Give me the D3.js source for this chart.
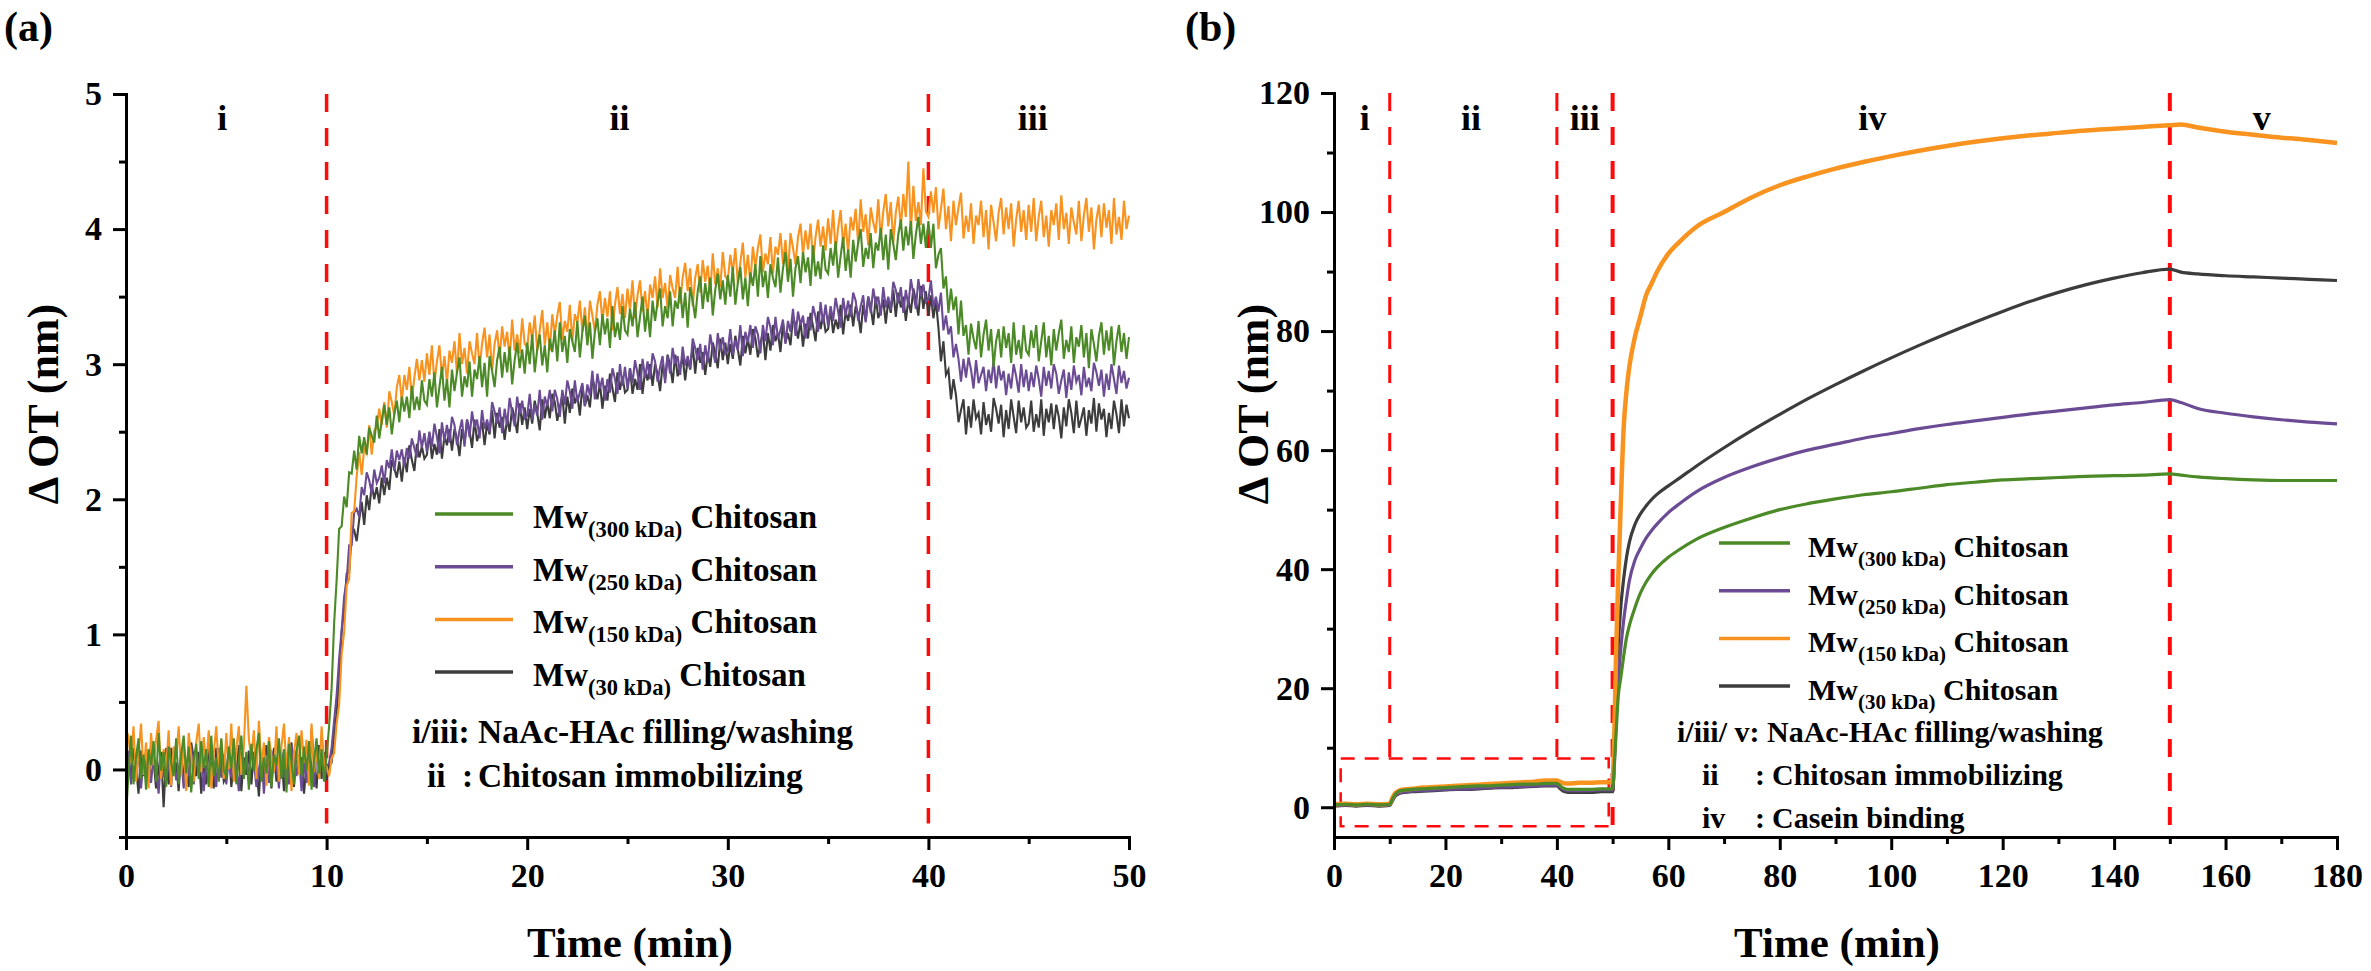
<!DOCTYPE html>
<html><head><meta charset="utf-8">
<script src="https://cdn.jsdelivr.net/npm/d3@7"></script>
<style>
body{margin:0;background:#fff}
svg{display:block}
text{font-family:"Liberation Serif","Times New Roman",serif;font-weight:bold;fill:#000}
</style>
</head><body>
<svg id="chart" width="2371" height="971"></svg>
<script>
// ---------- shared ----------
const seriesLabels = ["300 kDa", "250 kDa", "150 kDa", "30 kDa"];
const seriesColors = ["#4b8a26", "#6b4c94", "#f7931e", "#3c3c3c"];
const drawOrder = [3, 1, 2, 0];

// ---------- panel (a): one sample every 0.125 min, 0..50 min ----------
const stepA = 0.125;
const a300 = [
-0.35,-0.03,0.25,-0.11,0.09,0.23,-0.07,0.11,-0.15,0.15,0.03,0.21,-0.09,0.27,-0.01,0.13,-0.13,0.17,0.05,-0.05,0.23,-0.11,0.11,0.25,-0.03,0.17,-0.17,0.07,0.19,-0.07,0.21,0.01,0.15,-0.13,0.25,-0.05,0.09,-0.09,0.23,-0.01,
-0.05,0.17,0.01,0.23,-0.11,0.07,0.25,-0.07,0.13,-0.15,0.19,-0.01,0.15,0.27,-0.09,0.09,-0.03,0.21,-0.13,0.11,0.03,0.23,-0.07,0.15,-0.17,0.19,0.05,-0.11,0.13,0.25,-0.05,0.17,-0.01,0.21,-0.15,0.07,0.23,-0.03,0.15,-0.09,
0.10,0.32,0.60,1.08,1.40,1.78,1.80,2.02,1.94,2.20,2.19,2.36,2.22,2.47,2.34,2.46,2.33,2.53,2.47,2.42,2.62,2.45,2.58,2.70,2.55,2.68,2.48,2.63,2.73,2.57,2.76,2.65,2.76,2.60,2.84,2.66,2.76,2.66,2.88,2.73,
2.70,2.89,2.76,2.94,2.68,2.83,2.98,2.73,2.89,2.68,2.96,2.80,2.94,3.05,2.76,2.91,2.83,3.02,2.76,2.96,2.89,3.06,2.83,3.01,2.76,3.06,2.95,2.83,3.03,3.13,2.90,3.09,2.94,3.13,2.85,3.03,3.16,2.97,3.11,2.93,
3.16,3.00,3.22,2.94,3.11,3.22,2.99,3.14,2.94,3.19,3.09,3.25,3.02,3.31,3.09,3.21,3.01,3.26,3.17,3.09,3.32,3.05,3.24,3.36,3.14,3.31,3.04,3.24,3.34,3.14,3.37,3.22,3.34,3.12,3.43,3.20,3.31,3.18,3.43,3.25,
3.22,3.41,3.28,3.46,3.20,3.35,3.50,3.24,3.41,3.20,3.47,3.32,3.46,3.56,3.28,3.43,3.34,3.54,3.28,3.47,3.41,3.57,3.34,3.53,3.27,3.57,3.47,3.34,3.54,3.65,3.41,3.60,3.46,3.64,3.36,3.55,3.67,3.48,3.62,3.44,
3.66,3.50,3.72,3.44,3.60,3.72,3.48,3.64,3.43,3.68,3.58,3.74,3.50,3.80,3.57,3.69,3.49,3.74,3.64,3.57,3.79,3.53,3.71,3.83,3.61,3.78,3.50,3.71,3.80,3.60,3.83,3.68,3.79,3.58,3.88,3.65,3.76,3.63,3.88,3.70,
3.67,3.86,3.73,3.91,3.64,3.80,3.94,3.69,3.85,3.64,3.92,3.76,3.90,4.00,3.72,3.86,3.78,3.97,3.71,3.90,3.84,4.01,3.77,3.96,3.70,4.00,3.89,3.77,3.96,4.07,3.84,4.02,3.88,4.06,3.78,3.96,4.09,3.89,4.04,3.86,
4.06,3.86,4.04,3.71,3.81,3.86,3.56,3.65,3.38,3.56,3.40,3.50,3.22,3.47,3.21,3.29,3.07,3.30,3.19,3.11,3.32,3.05,3.22,3.33,3.10,3.26,2.98,3.17,3.26,3.05,3.28,3.12,3.23,3.01,3.31,3.07,3.18,3.04,3.29,3.10,
3.07,3.25,3.12,3.29,3.02,3.17,3.31,3.05,3.21,2.99,3.26,3.10,3.23,3.33,3.04,3.18,3.09,3.28,3.01,3.20,3.13,3.29,3.05,3.23,2.97,3.26,3.15,3.02,3.21,3.31,3.07,3.25,3.10,3.28,2.99,3.17,3.29,3.09,3.23,3.04,
3.20];
const a250 = [
-0.20,0.14,-0.11,0.03,-0.08,0.16,-0.14,0.08,-0.03,0.13,-0.10,0.11,0.02,-0.18,0.10,-0.06,0.16,0.05,-0.13,0.14,-0.08,0.00,0.10,-0.14,0.06,-0.05,0.18,-0.11,0.13,-0.02,0.08,-0.16,0.05,-0.10,0.14,0.03,-0.13,0.16,-0.06,0.11,
-0.11,0.08,-0.06,0.14,0.02,-0.16,0.13,-0.05,0.10,-0.08,0.16,0.06,-0.13,0.00,0.11,-0.18,0.08,-0.10,0.14,-0.02,0.05,-0.14,0.13,-0.06,0.03,-0.11,0.18,0.08,-0.05,0.11,-0.16,0.06,-0.10,0.16,0.02,-0.13,0.14,-0.03,0.10,-0.08,
0.02,0.05,0.16,0.36,0.55,0.82,1.03,1.28,1.40,1.66,1.66,1.90,1.93,1.87,2.09,2.03,2.20,2.14,2.04,2.22,2.12,2.16,2.25,2.12,2.29,2.23,2.37,2.21,2.36,2.29,2.37,2.24,2.38,2.30,2.45,2.38,2.31,2.51,2.38,2.49,
2.35,2.50,2.39,2.56,2.46,2.34,2.57,2.43,2.55,2.42,2.61,2.55,2.40,2.51,2.59,2.39,2.59,2.46,2.65,2.53,2.59,2.45,2.66,2.52,2.59,2.50,2.72,2.65,2.56,2.68,2.49,2.67,2.55,2.75,2.64,2.54,2.76,2.63,2.73,2.60,
2.62,2.78,2.59,2.70,2.62,2.81,2.59,2.76,2.69,2.81,2.65,2.81,2.74,2.61,2.81,2.70,2.88,2.80,2.67,2.88,2.72,2.79,2.86,2.69,2.85,2.77,2.95,2.74,2.93,2.82,2.90,2.73,2.89,2.79,2.97,2.89,2.78,3.00,2.84,2.98,
2.82,2.97,2.86,3.03,2.93,2.81,3.04,2.90,3.02,2.89,3.08,3.02,2.87,2.98,3.06,2.86,3.06,2.93,3.12,3.00,3.06,2.92,3.13,2.99,3.06,2.97,3.19,3.12,3.03,3.15,2.96,3.14,3.02,3.22,3.11,3.01,3.23,3.10,3.20,3.08,
3.10,3.26,3.07,3.18,3.10,3.29,3.06,3.24,3.16,3.29,3.12,3.28,3.22,3.08,3.29,3.17,3.35,3.27,3.14,3.35,3.19,3.25,3.33,3.15,3.32,3.24,3.41,3.21,3.39,3.29,3.36,3.19,3.35,3.25,3.43,3.35,3.24,3.46,3.30,3.44,
3.28,3.43,3.32,3.49,3.39,3.27,3.49,3.36,3.47,3.35,3.53,3.47,3.32,3.43,3.51,3.31,3.50,3.38,3.56,3.45,3.50,3.36,3.57,3.42,3.50,3.40,3.61,3.55,3.45,3.57,3.38,3.55,3.43,3.63,3.52,3.41,3.63,3.50,3.59,3.46,
3.48,3.62,3.42,3.50,3.39,3.53,3.25,3.36,3.22,3.28,3.05,3.15,3.04,2.87,3.04,2.90,3.05,2.96,2.82,3.03,2.86,2.92,2.98,2.80,2.96,2.86,3.03,2.82,2.99,2.88,2.95,2.77,2.93,2.82,3.00,2.91,2.79,3.00,2.83,2.96,
2.80,2.94,2.83,2.99,2.89,2.76,2.98,2.84,2.95,2.82,3.00,2.93,2.78,2.88,2.96,2.75,2.94,2.81,2.99,2.87,2.92,2.77,2.98,2.83,2.90,2.80,3.01,2.94,2.84,2.96,2.76,2.93,2.81,3.00,2.89,2.78,2.99,2.86,2.95,2.82,
2.90];
const a150 = [
0.30,0.24,0.05,0.32,-0.09,0.12,0.34,-0.04,0.20,-0.14,0.27,0.03,0.22,0.36,-0.07,0.15,0.00,0.29,-0.12,0.17,0.08,0.32,-0.04,0.22,-0.16,0.27,0.10,-0.09,0.20,0.34,-0.02,0.24,0.03,0.29,-0.14,0.12,0.32,0.00,0.22,-0.07,
0.27,0.00,0.34,-0.09,0.15,0.32,-0.04,0.17,0.62,0.22,0.08,0.29,-0.07,0.36,0.03,0.20,-0.12,0.24,0.10,-0.02,0.32,-0.09,0.17,0.34,0.00,0.24,-0.16,0.12,0.27,-0.04,0.29,0.05,0.22,-0.12,0.34,-0.02,0.15,-0.07,0.32,0.03,
0.02,-0.05,0.08,0.12,0.34,0.48,0.85,1.02,1.36,1.41,1.90,1.91,2.17,2.35,2.18,2.38,2.34,2.55,2.33,2.51,2.53,2.67,2.55,2.72,2.53,2.80,2.72,2.62,2.83,2.92,2.72,2.92,2.81,2.98,2.74,2.90,3.04,2.88,3.03,2.87,
3.08,2.92,3.14,2.86,3.02,3.14,2.91,3.06,2.86,3.10,3.01,3.17,2.93,3.23,3.00,3.12,2.93,3.17,3.08,3.00,3.23,2.97,3.15,3.27,3.05,3.22,2.95,3.15,3.25,3.04,3.28,3.13,3.24,3.03,3.33,3.10,3.22,3.08,3.34,3.15,
3.12,3.31,3.18,3.36,3.10,3.25,3.40,3.14,3.31,3.10,3.37,3.22,3.36,3.46,3.18,3.32,3.24,3.44,3.17,3.37,3.31,3.47,3.24,3.42,3.17,3.47,3.36,3.24,3.44,3.54,3.31,3.49,3.35,3.54,3.25,3.44,3.57,3.37,3.52,3.34,
3.56,3.40,3.62,3.34,3.51,3.62,3.39,3.54,3.34,3.59,3.49,3.65,3.42,3.71,3.49,3.60,3.41,3.66,3.56,3.49,3.72,3.45,3.64,3.75,3.54,3.71,3.43,3.64,3.74,3.53,3.77,3.61,3.73,3.52,3.82,3.59,3.71,3.57,3.83,3.65,
3.62,3.81,3.68,3.86,3.60,3.75,3.90,3.64,3.81,3.60,3.87,3.72,3.86,3.96,3.68,3.82,3.74,3.94,3.67,3.87,3.81,3.97,3.74,3.92,3.67,3.97,3.86,3.74,3.94,4.04,3.81,3.99,3.85,4.04,3.75,3.94,4.07,3.87,4.02,3.84,
4.08,3.89,4.14,3.83,4.01,4.14,3.88,4.04,3.82,4.09,3.99,4.15,3.89,4.22,3.98,4.11,3.88,4.16,4.05,3.97,4.22,3.93,4.13,4.26,4.02,4.20,3.90,4.12,4.24,4.01,4.26,4.09,4.50,3.98,4.32,4.06,4.20,4.03,4.45,4.13,
4.09,4.28,4.12,4.31,4.00,4.15,4.30,4.00,4.17,3.91,4.21,4.03,4.16,4.27,3.93,4.10,3.98,4.19,3.89,4.10,4.03,4.21,3.94,4.14,3.85,4.18,4.05,3.91,4.12,4.23,3.96,4.16,4.00,4.19,3.87,4.07,4.21,3.98,4.14,3.92,
4.18,3.98,4.23,3.91,4.09,4.21,3.94,4.10,3.87,4.14,4.03,4.19,3.92,4.25,4.00,4.12,3.89,4.16,4.05,3.96,4.21,3.91,4.10,4.23,3.98,4.16,3.85,4.07,4.18,3.94,4.19,4.01,4.14,3.89,4.23,3.96,4.09,3.92,4.21,4.00,
4.10];
const a30 = [
-0.13,0.09,-0.07,0.16,0.02,-0.18,0.14,-0.05,0.11,-0.09,0.18,0.07,-0.14,0.00,0.13,-0.28,0.09,-0.11,0.16,-0.02,0.05,-0.16,0.14,-0.07,0.04,-0.13,0.20,0.09,-0.05,0.13,-0.18,0.07,-0.11,0.18,0.02,-0.14,0.16,-0.04,0.11,-0.09,
-0.05,0.16,-0.13,0.04,-0.09,0.18,-0.16,0.09,-0.04,0.14,-0.11,0.13,0.02,-0.20,0.11,-0.07,0.18,0.05,-0.14,0.16,-0.09,0.00,0.11,-0.16,0.07,-0.05,0.20,-0.13,0.14,-0.02,0.09,-0.18,0.05,-0.11,0.30,0.04,-0.14,0.18,-0.07,0.13,
-0.08,0.03,0.05,0.25,0.42,0.66,1.02,1.18,1.45,1.46,1.75,1.77,1.69,1.85,1.98,1.81,2.03,1.92,2.11,2.00,2.09,1.97,2.16,2.03,2.16,2.07,2.29,2.23,2.16,2.28,2.13,2.31,2.20,2.40,2.29,2.21,2.41,2.31,2.39,2.30,
2.33,2.49,2.30,2.41,2.33,2.52,2.30,2.47,2.40,2.52,2.36,2.52,2.45,2.32,2.52,2.41,2.59,2.51,2.38,2.59,2.43,2.50,2.57,2.40,2.56,2.48,2.66,2.45,2.64,2.53,2.61,2.44,2.60,2.50,2.68,2.60,2.49,2.71,2.55,2.68,
2.52,2.67,2.56,2.73,2.64,2.51,2.74,2.60,2.72,2.60,2.78,2.72,2.58,2.68,2.77,2.56,2.76,2.64,2.82,2.71,2.77,2.62,2.84,2.69,2.77,2.68,2.89,2.83,2.74,2.86,2.67,2.84,2.73,2.93,2.82,2.72,2.94,2.81,2.91,2.79,
2.81,2.97,2.78,2.89,2.81,3.00,2.78,2.95,2.88,3.00,2.84,3.00,2.93,2.80,3.00,2.89,3.07,2.99,2.86,3.07,2.91,2.98,3.05,2.88,3.04,2.96,3.14,2.93,3.12,3.01,3.09,2.92,3.08,2.98,3.16,3.08,2.97,3.19,3.03,3.16,
3.00,3.15,3.04,3.21,3.11,2.99,3.21,3.08,3.19,3.07,3.26,3.19,3.05,3.15,3.24,3.03,3.23,3.10,3.29,3.17,3.23,3.09,3.30,3.16,3.23,3.14,3.35,3.29,3.19,3.32,3.13,3.30,3.19,3.38,3.28,3.17,3.39,3.26,3.36,3.24,
3.26,3.41,3.23,3.33,3.26,3.44,3.22,3.39,3.32,3.44,3.28,3.43,3.37,3.23,3.44,3.32,3.50,3.42,3.29,3.50,3.34,3.40,3.48,3.30,3.47,3.38,3.55,3.35,3.53,3.42,3.50,3.32,3.48,3.38,3.56,3.47,3.36,3.58,3.41,3.54,
3.36,3.51,3.34,3.47,3.27,3.02,3.17,2.92,2.96,2.74,2.89,2.77,2.57,2.66,2.74,2.48,2.69,2.53,2.74,2.60,2.64,2.48,2.72,2.55,2.63,2.50,2.75,2.67,2.56,2.70,2.46,2.66,2.52,2.74,2.61,2.49,2.73,2.57,2.68,2.53,
2.56,2.73,2.50,2.63,2.53,2.74,2.47,2.67,2.57,2.71,2.52,2.70,2.61,2.45,2.68,2.54,2.74,2.64,2.49,2.73,2.53,2.60,2.68,2.47,2.66,2.56,2.75,2.50,2.71,2.59,2.67,2.46,2.64,2.52,2.73,2.63,2.49,2.74,2.54,2.70,
2.60];
const seriesA = [a300, a250, a150, a30];
const xTicksA = [0, 10, 20, 30, 40, 50];
const xMinorA = [5, 15, 25, 35, 45];
const yTicksA = [0, 1, 2, 3, 4, 5];
const yMinorA = [-0.5, 0.5, 1.5, 2.5, 3.5, 4.5];
const boundariesA = [10, 40];
const phaseNamesA = ["i", "ii", "iii"];
const phaseAtA = [4.8, 24.6, 45.2];
const notesA = ["i/iii: NaAc-HAc filling/washing", "ii", ":", "Chitosan immobilizing"];

// ---------- panel (b) ----------
const timeB = [0,2,4,6,8,10,10.5,11,11.5,12,14,16,18,20,22,24,26,28,30,32,34,36,38,40,40.5,41,41.5,42,44,46,48,50,
50.3,50.6,51,51.5,52,52.5,53,54,55,56,57,58,60,62,65,70,75,80,85,90,95,100,105,110,115,120,125,130,135,140,145,150,
152,155,160,165,170,175,180];
const b300 = [0.4,0.5,0.4,0.5,0.4,0.5,1.4,2.2,2.6,2.8,3.0,3.1,3.2,3.3,3.4,3.5,3.6,3.6,3.7,3.8,3.9,3.9,4.0,4.0,3.7,3.3,3.1,3.0,3.0,3.0,3.1,3.1,
7,12,18.5,22,25.5,28.5,30.5,33.5,36,37.8,39.2,40.3,42,43.3,45,47,48.6,50,51,51.8,52.5,53,53.6,54.2,54.6,55,55.2,55.4,55.6,55.7,55.8,56,
55.8,55.5,55.2,55,54.9,54.9,54.9];
const b250 = [0.3,0.4,0.3,0.4,0.3,0.4,1.2,2.0,2.3,2.5,2.7,2.8,2.9,3.0,3.1,3.1,3.2,3.3,3.4,3.4,3.5,3.6,3.7,3.7,3.4,3.1,2.9,2.8,2.8,2.8,2.9,2.9,
7,14,21,27,31.5,35,38,41.5,43.5,45.2,46.5,47.6,49.5,51,53,55.4,57.2,58.7,60,61,62,62.8,63.6,64.3,64.9,65.5,66.1,66.6,67.1,67.6,68.0,68.5,
68.0,67.0,66.2,65.6,65.1,64.7,64.4];
const b150 = [0.5,0.6,0.5,0.6,0.5,0.6,1.6,2.4,2.7,2.9,3.1,3.3,3.4,3.5,3.6,3.7,3.8,3.9,4.0,4.1,4.2,4.3,4.5,4.5,4.3,4.1,4.0,4.0,4.1,4.1,4.2,4.2,
12,25,38,52,64,70,74,79,82.5,86,88,90,93,95,97.5,100,102.5,104.5,106,107.3,108.4,109.4,110.3,111.1,111.8,112.4,112.9,113.3,113.7,114.0,114.3,114.6,
114.7,114.2,113.5,113.0,112.5,112.1,111.6];
const b30 = [0.2,0.3,0.2,0.3,0.2,0.3,1.1,1.9,2.2,2.4,2.6,2.7,2.8,2.9,3.0,3.0,3.1,3.2,3.3,3.3,3.4,3.5,3.6,3.6,3.2,2.8,2.6,2.5,2.5,2.5,2.6,2.6,
8,18,27,34,38.5,42,44.5,47.5,49.3,50.6,51.7,52.6,54,55.3,57.3,60.4,63.3,66,68.6,71,73.3,75.5,77.6,79.6,81.5,83.3,85,86.5,87.8,88.9,89.8,90.4,
89.9,89.6,89.3,89.1,88.9,88.7,88.5];
const seriesB = [b300, b250, b150, b30];
const xTicksB = [0, 20, 40, 60, 80, 100, 120, 140, 160, 180];
const xMinorB = [10, 30, 50, 70, 90, 110, 130, 150, 170];
const yTicksB = [0, 20, 40, 60, 80, 100, 120];
const yMinorB = [10, 30, 50, 70, 90, 110];
const innerBoundariesB = [10, 40];
const mainBoundariesB = [50, 150];
const boxB = {t0: 1.2, t1: 49.3, v0: -3.2, v1: 8.2};
const phaseNamesB = ["i", "ii", "iii", "iv", "v"];
const phaseAtB = [5.5, 24.6, 45, 96.6, 166.5];
const notesB = ["i/iii/ v: NaAc-HAc filling/washing", "ii", ":", "Chitosan immobilizing", "iv", ":", "Casein binding"];

// ---------- drawing ----------
const svg = d3.select("#chart");
const RED = "#ff0a0a";

function axes(g, x, y, xt, xm, yt, ym) {
  const gx = g.append("g").attr("transform", `translate(0,${y.range()[0]})`);
  gx.call(d3.axisBottom(x).tickValues(xm).tickSize(7).tickSizeOuter(0).tickFormat(""));
  gx.append("g").call(d3.axisBottom(x).tickValues(xt).tickSize(13).tickSizeOuter(0).tickPadding(13).tickFormat(d3.format("d")));
  const gy = g.append("g").attr("transform", `translate(${x.range()[0]},0)`);
  gy.call(d3.axisLeft(y).tickValues(ym).tickSize(7).tickSizeOuter(0).tickFormat(""));
  gy.append("g").call(d3.axisLeft(y).tickValues(yt).tickSize(13).tickSizeOuter(0).tickPadding(11).tickFormat(d3.format("d")));
  g.selectAll(".domain").attr("stroke", "#000").attr("stroke-width", 3).attr("stroke-linecap", "square");
  g.selectAll(".tick line").attr("stroke", "#000").attr("stroke-width", 3);
  g.selectAll(".tick text").attr("font-family", "Liberation Serif, Times New Roman, serif")
    .attr("font-weight", "bold").attr("font-size", 34).attr("fill", "#000");
}

function legend(g, x1, x2, xt, y0, dy, fs, sfs) {
  seriesLabels.forEach((lab, i) => {
    const yy = y0 + i * dy;
    g.append("line").attr("x1", x1).attr("x2", x2).attr("y1", yy).attr("y2", yy)
      .attr("stroke", seriesColors[i]).attr("stroke-width", 3.5);
    const t = g.append("text").attr("x", xt).attr("y", yy + 14).attr("font-size", fs);
    t.append("tspan").text("Mw");
    t.append("tspan").attr("font-size", sfs).attr("dy", 9).text("(" + lab + ")");
    t.append("tspan").attr("dy", -9).text(" Chitosan");
  });
}

// Panel (a)
{
  const g = svg.append("g");
  const x = d3.scaleLinear([0, 50], [126, 1129]);
  const y = d3.scaleLinear([-0.5, 5], [837, 94]);
  boundariesA.forEach(b => g.append("line").attr("x1", x(b)).attr("x2", x(b))
    .attr("y1", y(5)).attr("y2", y(-0.4)).attr("stroke", RED).attr("stroke-width", 3.5)
    .attr("stroke-dasharray", "18,16"));
  const line = d3.line().x((d, i) => x(i * stepA)).y(d => y(d));
  drawOrder.forEach(k => g.append("path").attr("d", line(seriesA[k])).attr("fill", "none")
    .attr("stroke", seriesColors[k]).attr("stroke-width", 2.1).attr("stroke-linejoin", "miter"));
  axes(g, x, y, xTicksA, xMinorA, yTicksA, yMinorA);
  phaseNamesA.forEach((p, i) => g.append("text").attr("x", x(phaseAtA[i])).attr("y", 130)
    .attr("text-anchor", "middle").attr("font-size", 36).text(p));
  legend(g, 435, 513, 533, 514, 52.7, 33, 22.5);
  g.append("text").attr("x", 412).attr("y", 743).attr("font-size", 33.5).text(notesA[0]);
  g.append("text").attr("x", 427).attr("y", 787).attr("font-size", 33.5).text(notesA[1]);
  g.append("text").attr("x", 462).attr("y", 787).attr("font-size", 33.5).text(notesA[2]);
  g.append("text").attr("x", 478).attr("y", 787).attr("font-size", 33.5).text(notesA[3]);
  g.append("text").attr("x", 630).attr("y", 957).attr("text-anchor", "middle").attr("font-size", 43).text("Time (min)");
  g.append("text").attr("transform", "translate(58,404) rotate(-90)").attr("text-anchor", "middle")
    .attr("font-size", 44).text("Δ OT (nm)");
  g.append("text").attr("x", 4).attr("y", 41).attr("font-size", 42).text("(a)");
}

// Panel (b)
{
  const g = svg.append("g");
  const x = d3.scaleLinear([0, 180], [1334, 2337]);
  const y = d3.scaleLinear([-5, 120], [837, 93]);
  innerBoundariesB.forEach(b => g.append("line").attr("x1", x(b)).attr("x2", x(b))
    .attr("y1", y(120)).attr("y2", y(boxB.v1)).attr("stroke", RED).attr("stroke-width", 3)
    .attr("stroke-dasharray", "18,16"));
  mainBoundariesB.forEach(b => g.append("line").attr("x1", x(b)).attr("x2", x(b))
    .attr("y1", y(120)).attr("y2", y(-4.5)).attr("stroke", RED).attr("stroke-width", 4)
    .attr("stroke-dasharray", "18,16"));
  g.append("rect").attr("x", x(boxB.t0)).attr("y", y(boxB.v1))
    .attr("width", x(boxB.t1) - x(boxB.t0)).attr("height", y(boxB.v0) - y(boxB.v1))
    .attr("fill", "none").attr("stroke", RED).attr("stroke-width", 2.5).attr("stroke-dasharray", "14,10");
  const line = d3.line().x((d, i) => x(timeB[i])).y(d => y(d)).curve(d3.curveMonotoneX);
  drawOrder.forEach(k => g.append("path").attr("d", line(seriesB[k])).attr("fill", "none")
    .attr("stroke", seriesColors[k]).attr("stroke-width", k === 2 ? 4.5 : 3.2).attr("stroke-linejoin", "round"));
  axes(g, x, y, xTicksB, xMinorB, yTicksB, yMinorB);
  phaseNamesB.forEach((p, i) => g.append("text").attr("x", x(phaseAtB[i])).attr("y", 130)
    .attr("text-anchor", "middle").attr("font-size", 36).text(p));
  legend(g, 1719, 1790, 1808, 543, 47.7, 30, 21);
  g.append("text").attr("x", 1677).attr("y", 742).attr("font-size", 30).text(notesB[0]);
  [[1702, 785, 1], [1755, 785, 2], [1772, 785, 3], [1702, 828, 4], [1755, 828, 5], [1772, 828, 6]]
    .forEach(([xx, yy, k]) => g.append("text").attr("x", xx).attr("y", yy).attr("font-size", 30).text(notesB[k]));
  g.append("text").attr("x", 1837).attr("y", 957).attr("text-anchor", "middle").attr("font-size", 43).text("Time (min)");
  g.append("text").attr("transform", "translate(1268,404) rotate(-90)").attr("text-anchor", "middle")
    .attr("font-size", 44).text("Δ OT (nm)");
  g.append("text").attr("x", 1185).attr("y", 41).attr("font-size", 42).text("(b)");
}
</script>
</body></html>
